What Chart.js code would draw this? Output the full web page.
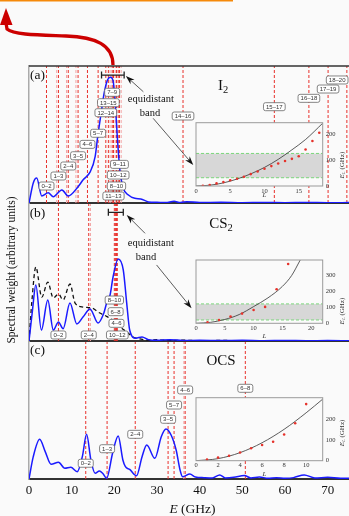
<!DOCTYPE html>
<html>
<head>
<meta charset="utf-8">
<script src="https://cdn.jsdelivr.net/npm/chart.js@4.4.1/dist/chart.umd.min.js"></script>
<style>
html,body{margin:0;padding:0;background:#fafafa;}
#wrap{position:relative;width:349px;height:516px;overflow:hidden;font-family:"Liberation Serif",serif;color:#111;}
#wrap canvas{position:absolute;left:0;top:0;}
.t{position:absolute;transform:translate(-50%,-50%);white-space:nowrap;line-height:1;}
.t sub{font-size:70%;vertical-align:-0.25em;}
</style>
</head>
<body>
<div id="wrap">
<svg width="349" height="70" style="position:absolute;left:0;top:0">
  <rect x="0" y="0" width="233" height="1.5" fill="#f5890a"/>
  <path d="M113,65 C113,45 96,37 66,36 C40,35 14,35 7,29 L6,23" fill="none" stroke="#cc0000" stroke-width="3.3"/>
  <polygon points="0,25 12.5,25 6,8" fill="#cc0000"/>
</svg>
<canvas id="pa" width="349" height="516"></canvas>
<canvas id="pb" width="349" height="516"></canvas>
<canvas id="pc" width="349" height="516"></canvas>
<canvas id="ia" width="349" height="516"></canvas>
<canvas id="ib" width="349" height="516"></canvas>
<canvas id="ic" width="349" height="516"></canvas>
<div class="t" style="left:37.5px;top:75px;font-size:13.5px">(a)</div>
<div class="t" style="left:37.5px;top:213px;font-size:13.5px">(b)</div>
<div class="t" style="left:37.5px;top:350px;font-size:13.5px">(c)</div>
<div class="t" style="left:223px;top:87px;font-size:15px">I<sub>2</sub></div>
<div class="t" style="left:221px;top:225px;font-size:15px">CS<sub>2</sub></div>
<div class="t" style="left:221px;top:360px;font-size:15px">OCS</div>
<div class="t" style="left:150.8px;top:99px;font-size:10.5px">equidistant</div>
<div class="t" style="left:150px;top:112.7px;font-size:10.5px">band</div>
<div class="t" style="left:150.8px;top:243.3px;font-size:10.5px">equidistant</div>
<div class="t" style="left:146px;top:257.3px;font-size:10.5px">band</div>
<div class="t" style="left:192.5px;top:509px;font-size:13.5px"><i>E</i> (GHz)</div>
<div class="t" style="left:11.7px;top:270px;font-size:11.5px;transform:translate(-50%,-50%) rotate(-90deg)">Spectral weight (arbitrary units)</div>
</div>
<script>
// (a) I2 spectrum
let i2E=[0,1.0,1.8,3.0,4.5,5.7,7.7,9.2,11.5,12.7,14.3,15.5,16.1,16.9,17.6,18.4,19.1,19.7,20.1,20.8,21.3,22.1,23.3,24.8,26.2,28,30,32,34,35.5,37,40,45,50,55,60,65,70,75];
let i2W=[0,14.6,18.2,5.1,7.5,4.6,9.5,5.1,11.9,17,22.5,33.8,48.4,65.5,80,89.8,91.7,89.3,77.6,43.6,24,10.7,5.8,3.4,3,0.8,0.5,0.3,1.2,0.4,1,0.3,0.5,0.2,0.4,0.2,0.4,0.2,0.3];
let i2Lines=[4.1,6.9,9.2,11.5,13.7,16.2,18.0,18.6,19.5,19.8,20.5,20.9,21.2,36.1,57.5,65.6,70.1,74.5];
let i2Names=["0–2","1–3","2–4","3–5","4–6","5–7","12–14","13–15","7–9","11–13","8–10","10–12","9–11","14–16","15–17","16–18","17–19","18–20"];
let i2Pale=[6.5,8.8,11.0,19.0,20.2,21.6];

// (b) CS2 spectrum (solid) and second curve (dashed)
let cs2E=[0,0.8,1.6,2.9,4.4,5.7,6.9,8.0,9.6,11.2,12.7,14.3,16.2,17.5,18.2,19.0,19.7,20.9,22.1,22.9,23.6,25,26.5,28,30,33,36,40,45,50,55,60,65,70,75];
let cs2W=[0,22,40.9,8,29.9,8,13.9,9,27.7,12.5,17.7,23.4,13.1,20,27.7,33.6,46.7,59.9,51.8,27.7,8,2,3,1,0.5,1,0.3,0.5,0.3,0.5,0.2,0.4,0.2,0.3,0.2];
let cs2dE=[0,0.7,1.6,3.0,4.4,5.7,6.9,8.0,9.6,10.8,12.7,14.7,16.6,18.2,20.1,21.5,22.9,24.4,26,28,30,33,36,40,45,50,55,60,65,70,75];
let cs2dW=[0,30,54,32,43,31.4,34.3,30,41.6,27.7,24.8,24.1,20.4,18,14,10,6.6,2.9,1.5,0.5,1,0.3,0.6,0.2,0.4,0.2,0.3,0.2,0.3,0.2,0.2];
let cs2Lines=[6.9,14.0,20.7,20.0,20.3,20.5];
let cs2Names=["0–2","2–4","10–12","8–10","6–8","4–6"];
let cs2Pale=[14.4];

// (c) OCS spectrum
let ocsE=[0,1.0,2.5,3.8,5.2,6.9,8.4,9.8,11.3,12.5,13.5,14.5,15.5,16.5,17.3,18.2,19.6,20.9,22.0,22.6,23.6,25.2,26.5,27.6,29.5,31,32.1,33.3,34.5,35.4,36.0,37.7,39,41,43,44.7,46,48,50.5,52,54,56,58,60,62,64.5,67,70,73,75];
let ocsW=[0,16.3,29,20,10.7,12.2,7.8,8.5,5.3,16.3,32.6,13.9,4.2,5.8,4,0.5,19,31.4,13.9,9,7,2.4,16.3,24.8,15.1,30.9,36.5,32.1,21,6.6,1.7,3.6,1.5,1,0.8,3,0.8,1.2,2.5,0.8,1.5,0.5,1,0.6,1,3,0.8,1.2,0.5,0.6];
let ocsLines=[13.3,18.3,24.9,32.6,34.0,36.6,50.7];
let ocsNames=["0–2","1–3","2–4","3–5","5–7","4–6","6–8"];
let ocsPale=[36.3];

let eTicks=[0,10,20,30,40,50,60,70];

// insets: E_L against L
let i2FitL=[0,2,4,6,8,10,12,14,16,18.5];
let i2FitE=[0,3,12,27,47,72,103,140,180,243];
let i2L=[1,2,3,4,5,6,7,8,9,10,11,12,13,14,15,16,17,18];
let i2EL=[1,4,10,15,22,28,36,46,56,67,77,87,97,105,115,141,174,206];
let i2Band=[32,126];
let i2LTicks=[0,5,10,15], i2ETicks=[0,100,200];

let cs2FitL=[0,2.5,5,7.5,10,12.5,15,16.6,18.1];
let cs2FitE=[0,6,24,55,105,160,232,300,398];
let cs2L=[2,4,6,8,10,12,14,16];
let cs2EL=[6,21,42,61,84,103,214,373];
let cs2Band=[21,122];
let cs2LTicks=[0,5,10,15,20], cs2ETicks=[0,100,200,300];

let ocsFitL=[0,2,4,6,8,10,11.5];
let ocsFitE=[0,10,39,87,152,232,298];
let ocsL=[1,2,3,4,5,6,7,8,9,10];
let ocsEL=[5,15,24,40,60,76,92,127,181,274];
let ocsLTicks=[0,2,4,6,8,10], ocsETicks=[0,100,200];

const BG="#fafafa";
const xy=(xs,ys)=>xs.map((x,i)=>({x:x,y:ys[i]}));
const fixTicks=vals=>s=>{s.ticks=vals.map(v=>({value:v}));};

function roundBox(ctx,x,y,w,h,r){
    ctx.beginPath();
    ctx.moveTo(x+r,y);
    ctx.arcTo(x+w,y,x+w,y+h,r);
    ctx.arcTo(x+w,y+h,x,y+h,r);
    ctx.arcTo(x,y+h,x,y,r);
    ctx.arcTo(x,y,x+w,y,r);
    ctx.closePath();
}
function arrow(ctx,x0,y0,x1,y1,len,wid){
    let a=Math.atan2(y1-y0,x1-x0), c=Math.cos(a), s=Math.sin(a);
    ctx.beginPath(); ctx.moveTo(x0,y0); ctx.lineTo(x1-c*len*0.7,y1-s*len*0.7); ctx.stroke();
    ctx.beginPath(); ctx.moveTo(x1,y1);
    ctx.lineTo(x1-len*c+wid/2*s,y1-len*s-wid/2*c);
    ctx.lineTo(x1-len*0.7*c,y1-len*0.7*s);
    ctx.lineTo(x1-len*c-wid/2*s,y1-len*s+wid/2*c);
    ctx.closePath(); ctx.fill();
}

// red dashed transition lines, tags, bracket and arrows for the big panels
const marksPlugin={
    id:"marks",
    beforeDatasetsDraw(chart,args,o){
        let {ctx,chartArea:a,scales:{x}}=chart;
        ctx.save();
        ctx.lineWidth=1; ctx.setLineDash([3,2]);
        let vline=(e,col)=>{let px=x.getPixelForValue(e);ctx.strokeStyle=col;ctx.beginPath();ctx.moveTo(px,a.bottom);ctx.lineTo(px,a.top);ctx.stroke();};
        (o.pale||[]).forEach(e=>vline(e,"#f3a3a3"));
        (o.lines||[]).forEach(e=>vline(e,"#e8312b"));
        ctx.restore();
    },
    afterDatasetsDraw(chart,args,o){
        let {ctx,chartArea:a,scales:{x,y}}=chart;
        ctx.save();
        if(o.top){ctx.strokeStyle="#333";ctx.lineWidth=1.5;ctx.beginPath();ctx.moveTo(a.left,a.top);ctx.lineTo(a.right,a.top);ctx.stroke();}
        ctx.font='6px "Liberation Sans"';
        (o.lines||[]).forEach((e,i)=>{
            let t=o.names[i], w=ctx.measureText(t).width+5, h=8;
            let cx=x.getPixelForValue(e), cy=y.getPixelForValue(o.levels[i]);
            let bx=Math.max(a.left+1,Math.min(cx-w/2,a.right-w-1));
            roundBox(ctx,bx,cy-h/2,w,h,2);
            ctx.fillStyle="#fff"; ctx.fill();
            ctx.strokeStyle="#666"; ctx.lineWidth=0.8; ctx.stroke();
            ctx.fillStyle="#333"; ctx.textAlign="center"; ctx.textBaseline="middle";
            ctx.fillText(t,bx+w/2,cy+0.4);
        });
        if(o.bracket){
            let [e0,e1,v]=o.bracket, x0=x.getPixelForValue(e0), x1=x.getPixelForValue(e1), py=y.getPixelForValue(v);
            ctx.strokeStyle="#222"; ctx.lineWidth=1.3;
            ctx.beginPath();
            ctx.moveTo(x0,py);ctx.lineTo(x1,py);
            ctx.moveTo(x0,py-3.5);ctx.lineTo(x0,py+3.5);
            ctx.moveTo(x1,py-3.5);ctx.lineTo(x1,py+3.5);
            ctx.stroke();
        }
        ctx.strokeStyle="#333"; ctx.fillStyle="#111"; ctx.lineWidth=0.8;
        (o.arrows||[]).forEach(r=>{
            arrow(ctx,x.getPixelForValue(r[0]),y.getPixelForValue(r[1]),x.getPixelForValue(r[2]),y.getPixelForValue(r[3]),9,6);
        });
        ctx.restore();
    }
};

// inset box, background, axis titles
const framePlugin={
    id:"frame",
    beforeDraw(chart){
        let {ctx,chartArea:a}=chart;
        ctx.save(); ctx.fillStyle=BG; ctx.fillRect(a.left,a.top,a.width,a.height); ctx.restore();
    },
    afterDraw(chart,args,o){
        let {ctx,chartArea:a,scales:{y}}=chart;
        ctx.save();
        ctx.strokeStyle="#9a9a9a"; ctx.lineWidth=1;
        ctx.strokeRect(a.left,a.top,a.width,a.height);
        ctx.fillStyle="#333"; ctx.textBaseline="middle"; ctx.textAlign="center";
        ctx.font='italic 7px "Liberation Serif"';
        ctx.fillText("L",(a.left+a.right)/2+5,a.bottom+o.ldy);
        ctx.translate(342,y.getPixelForValue(o.tv));
        ctx.rotate(-Math.PI/2);
        ctx.textAlign="left";
        let f1='italic 7px "Liberation Serif"', f2='italic 5px "Liberation Serif"', f3='7px "Liberation Serif"';
        ctx.font=f1; let w1=ctx.measureText("E").width;
        ctx.font=f2; let w2=ctx.measureText("L").width;
        ctx.font=f3; let w3=ctx.measureText(" (GHz)").width;
        let sx=-(w1+w2+w3)/2;
        ctx.font=f1; ctx.fillText("E",sx,0);
        ctx.font=f2; ctx.fillText("L",sx+w1,1.8);
        ctx.font=f3; ctx.fillText(" (GHz)",sx+w1+w2,0);
        ctx.restore();
    }
};

function curve(xs,ys,col,dash,w){
    return {data:xy(xs,ys),borderColor:col,borderWidth:w,borderDash:dash,pointRadius:0,cubicInterpolationMode:"monotone",fill:false};
}

// tick labels are clipped to the axis box, so the box keeps a real size
function panel(id,top,bottom,datasets,marks,ticks){
    let axisH=ticks?24:0;
    return new Chart(document.getElementById(id),{
        type:"line",
        data:{datasets:datasets},
        options:{
            responsive:false,animation:false,events:[],
            layout:{padding:{left:29,right:0,top:top,bottom:516-bottom-axisH}},
            plugins:{legend:{display:false},tooltip:{enabled:false},marks:marks},
            scales:{
                x:{type:"linear",min:0,max:75,afterFit:s=>{s.height=axisH;},afterBuildTicks:fixTicks(eTicks),
                   grid:{display:false,drawTicks:false},border:{color:"#333",width:2},
                   ticks:{display:ticks,padding:4,maxRotation:0,color:"#111",font:{family:"Liberation Serif",size:13}}},
                y:{min:0,max:100,afterFit:s=>{s.width=0;},
                   grid:{display:false,drawTicks:false},border:{color:"#aaa",width:1.5},ticks:{display:false}}
            }
        },
        plugins:[marksPlugin]
    });
}

function inset(id,top,bottom,xMax,yMax,xTicks,yTicks,datasets,frame){
    let tk={color:"#333",font:{family:"Liberation Serif",size:6.5},maxRotation:0};
    let xh=11, yw=17;
    return new Chart(document.getElementById(id),{
        type:"line",
        data:{datasets:datasets},
        options:{
            responsive:false,animation:false,events:[],
            layout:{padding:{left:196,right:349-322.7-yw,top:top,bottom:516-bottom-xh}},
            plugins:{legend:{display:false},tooltip:{enabled:false},frame:frame},
            scales:{
                x:{type:"linear",min:0,max:xMax,afterFit:s=>{s.height=xh;},afterBuildTicks:fixTicks(xTicks),
                   grid:{display:false,drawTicks:false},border:{display:false},ticks:Object.assign({padding:1},tk)},
                y:{position:"right",min:0,max:yMax,afterFit:s=>{s.width=yw;},afterBuildTicks:fixTicks(yTicks),
                   grid:{display:false,drawTicks:false},border:{display:false},ticks:Object.assign({padding:3},tk)}
            }
        },
        plugins:[framePlugin]
    });
}

// dataset 0 is painted last, so dots come first and the band last
function bandSets(band,xMax){
    let g={borderColor:"#7cd67c",borderWidth:1,borderDash:[3,2],pointRadius:0};
    return [
        Object.assign({data:[{x:0,y:band[0]},{x:xMax,y:band[0]}],fill:false},g),
        Object.assign({data:[{x:0,y:band[1]},{x:xMax,y:band[1]}],fill:"-1",backgroundColor:"#d7d7d7"},g)
    ];
}
function dots(xs,ys){
    return {data:xy(xs,ys),showLine:false,pointRadius:1.3,pointBackgroundColor:"#e5322b",pointBorderWidth:0};
}

panel("pa",66,203,[curve(i2E,i2W,"#1a1aff",[],1.5)],
    {lines:i2Lines,names:i2Names,pale:i2Pale,levels:[12.4,19.7,27,34.5,42.8,50.9,65.9,73.2,80.8,5.1,12.4,20.4,28.2,63.5,70.3,76.4,83.2,89.8],
     top:true,bracket:[17.0,22.3,93.4],arrows:[[26.8,81.2,22.7,92.7],[29.1,61.8,38.5,27.7]]},false);
panel("pb",204,341,[curve(cs2E,cs2W,"#1a1aff",[],1.5),curve(cs2dE,cs2dW,"#111",[4,3],1.3)],
    {lines:cs2Lines,names:cs2Names,pale:cs2Pale,levels:[4.4,4.4,4.4,29.9,21.4,12.9],
     bracket:[18.6,22.1,93.9],arrows:[[27.2,78.6,22.9,92],[29.9,55.5,38.1,23.9]]},false);
panel("pc",342,479,[curve(ocsE,ocsW,"#1a1aff",[],1.5)],
    {lines:ocsLines,names:ocsNames,pale:ocsPale,levels:[11.5,22.1,32.6,43.6,54,65,66.2]},true);

inset("ia",122.7,186,18.5,245,i2LTicks,i2ETicks,
    [dots(i2L,i2EL),curve(i2FitL,i2FitE,"#333",[],0.8)].concat(bandSets(i2Band,18.5)),{ldy:9.5,tv:81});
inset("ib",260,323.3,22,398,cs2LTicks,cs2ETicks,
    [dots(cs2L,cs2EL),curve(cs2FitL,cs2FitE,"#333",[],0.8)].concat(bandSets(cs2Band,22)),{ldy:12.5,tv:77});
inset("ic",397.7,460.7,11.5,305,ocsLTicks,ocsETicks,
    [dots(ocsL,ocsEL),curve(ocsFitL,ocsFitE,"#333",[],0.8)],{ldy:13,tv:134});
</script>
</body>
</html>
